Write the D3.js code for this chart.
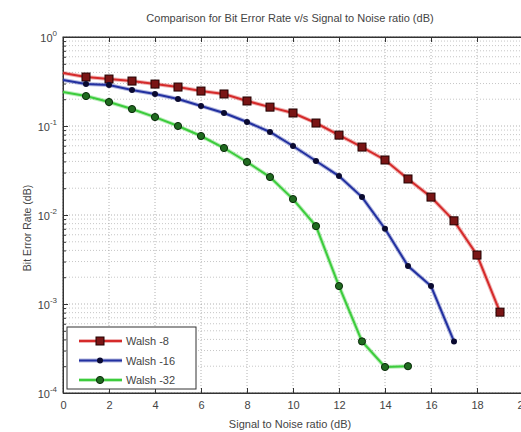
<!DOCTYPE html>
<html><head><meta charset="utf-8">
<script src="https://cdn.jsdelivr.net/npm/d3@7"></script>
<style>body{margin:0;background:#fff}svg{display:block}text{font-family:"Liberation Sans",Arial,sans-serif;fill:#444}</style>
</head><body><svg id="c" width="521" height="432"></svg>
<script>
const snr = [0,1,2,3,4,5,6,7,8,9,10,11,12,13,14,15,16,17,18,19];
const walsh8 = [0.394,0.355,0.337,0.32,0.296,0.274,0.247,0.229,0.191,0.163,0.14,0.108,0.079,0.058,0.0415,0.0254,0.0159,0.0086,0.00355,0.00081];
const walsh16 = [0.329,0.296,0.289,0.254,0.229,0.201,0.168,0.14,0.111,0.0857,0.0596,0.0404,0.0274,0.0159,0.007,0.00267,0.00159,0.00038];
const walsh32 = [0.241,0.217,0.186,0.155,0.126,0.1,0.0772,0.0566,0.0394,0.0267,0.0151,0.0075,0.00159,0.00038,0.000196,0.0002];
const seriesNames = ["Walsh -8","Walsh -16","Walsh -32"];
const xTicks = [0,2,4,6,8,10,12,14,16,18,20];
const yTicks = [1e-4,1e-3,1e-2,1e-1,1];
const yExp = ["-4","-3","-2","-1","0"];

const svg = d3.select("#c");
const L=63, R=523, T=37, B=393;
const x = d3.scaleLinear().domain([0,20]).range([L,R]);
const y = d3.scaleLog().domain([1e-4,1]).range([B,T]);

// grid
const g = svg.append("g");
const minor=[];
for(let e=-4;e<0;e++) for(let m=2;m<=9;m++) minor.push(m*Math.pow(10,e));
g.selectAll(".ym").data(minor).join("line").attr("x1",L).attr("x2",R)
 .attr("y1",d=>y(d)).attr("y2",d=>y(d)).attr("stroke","#b8b8b8").attr("stroke-width",0.8).attr("stroke-dasharray","1,2");
g.selectAll(".yM").data(yTicks).join("line").attr("x1",L).attr("x2",R)
 .attr("y1",d=>y(d)).attr("y2",d=>y(d)).attr("stroke","#a0a0a0").attr("stroke-width",0.8).attr("stroke-dasharray","1,2");
g.selectAll(".xM").data(xTicks).join("line").attr("y1",T).attr("y2",B)
 .attr("x1",d=>x(d)).attr("x2",d=>x(d)).attr("stroke","#a0a0a0").attr("stroke-width",0.8).attr("stroke-dasharray","1,2");

// axes
const ax = svg.append("g").attr("transform",`translate(0,${B})`)
 .call(d3.axisBottom(x).tickValues(xTicks).tickSize(-5).tickPadding(8).tickFormat(d3.format("d")));
const axT = svg.append("g").attr("transform",`translate(0,${T})`)
 .call(d3.axisTop(x).tickValues(xTicks).tickSize(-5).tickFormat(""));
const ay = svg.append("g").attr("transform",`translate(${L},0)`)
 .call(d3.axisLeft(y).tickValues(yTicks).tickSize(-5).tickFormat(""));
const ayMinor = svg.append("g").attr("transform",`translate(${L},0)`)
 .call(d3.axisLeft(y).tickValues(minor).tickSize(-3).tickFormat(""));
[ax,axT,ay,ayMinor].forEach(a=>{a.select(".domain").attr("stroke","#333");a.selectAll(".tick line").attr("stroke","#333");
 a.selectAll("text").style("font-size","11px").attr("fill","#444");});
ayMinor.select(".domain").remove();
svg.append("rect").attr("x",L).attr("y",T).attr("width",R-L).attr("height",B-T).attr("fill","none").attr("stroke","#333");
// y tick labels
yTicks.forEach((v,i)=>{
  const t=svg.append("text").attr("x",L-6).attr("y",y(v)+5).attr("text-anchor","end").style("font-size","11px");
  t.append("tspan").text("10");
  t.append("tspan").attr("dy",-6).style("font-size","8px").text(yExp[i]);
});

// lines
const series=[
 {vals:walsh8,color:"#d52a2a",mark:"square",mfill:"#7a1515"},
 {vals:walsh16,color:"#2230a0",mark:"dot",mfill:"#10104a"},
 {vals:walsh32,color:"#3ccc3c",mark:"circle",mfill:"#1f6a1f"}];
const line=d3.line().x((d,i)=>x(snr[i])).y(d=>y(d));
function drawMarker(sel,s,cx,cy){
  if(s.mark==="square") sel.append("rect").attr("x",cx-4).attr("y",cy-4).attr("width",8).attr("height",8)
     .attr("fill",s.mfill).attr("stroke","#200").attr("stroke-width",1);
  else if(s.mark==="dot") sel.append("circle").attr("cx",cx).attr("cy",cy).attr("r",3).attr("fill","#0a0a30");
  else sel.append("circle").attr("cx",cx).attr("cy",cy).attr("r",3.6).attr("fill",s.mfill).attr("stroke","#0a2a0a").attr("stroke-width",1);
}
series.forEach(s=>{
  svg.append("path").datum(s.vals).attr("d",line).attr("fill","none").attr("stroke",s.color).attr("stroke-opacity",0.35).attr("stroke-width",4);
  svg.append("path").datum(s.vals).attr("d",line).attr("fill","none").attr("stroke",s.color).attr("stroke-width",2);
  const mg=svg.append("g");
  s.vals.forEach((v,i)=>{ if(i>0) drawMarker(mg,s,x(snr[i]),y(v)); });
});

// legend
const lg=svg.append("g");
lg.append("rect").attr("x",67).attr("y",327).attr("width",129).attr("height",62).attr("fill","#fff").attr("stroke","#333");
series.forEach((s,i)=>{
  const yy=341+i*19.5;
  lg.append("line").attr("x1",79).attr("x2",122).attr("y1",yy).attr("y2",yy).attr("stroke",s.color).attr("stroke-opacity",0.35).attr("stroke-width",4);
  lg.append("line").attr("x1",79).attr("x2",122).attr("y1",yy).attr("y2",yy).attr("stroke",s.color).attr("stroke-width",2);
  drawMarker(lg,s,100,yy);
  lg.append("text").attr("x",126).attr("y",yy+4).style("font-size","11px").text(seriesNames[i]);
});

// titles
svg.append("text").attr("x",290).attr("y",22).attr("text-anchor","middle").style("font-size","11px")
 .text("Comparison for Bit Error Rate v/s Signal to Noise ratio (dB)");
svg.append("text").attr("x",290).attr("y",428).attr("text-anchor","middle").style("font-size","11px")
 .text("Signal to Noise ratio (dB)");
svg.append("text").attr("transform","translate(31,228) rotate(-90)").attr("text-anchor","middle").style("font-size","10.5px")
 .text("Bit Error Rate (dB)");
</script></body></html>
